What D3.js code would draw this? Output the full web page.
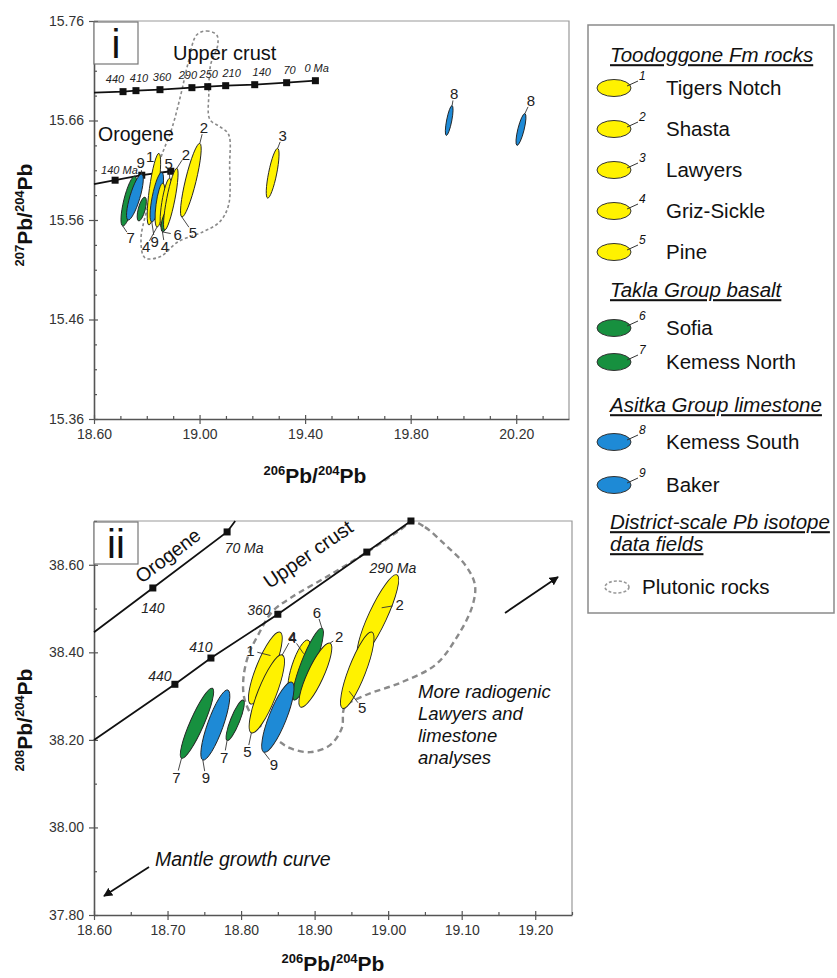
<!DOCTYPE html>
<html>
<head>
<meta charset="utf-8">
<script src="https://cdn.jsdelivr.net/npm/d3@7"></script>
<style>
body { margin: 0; background: #fff; }
svg text { font-family: "Liberation Sans", Arial, sans-serif; }
</style>
</head>
<body>
<svg id="chart" width="837" height="978"></svg>
<script>
// ---- data -------------------------------------------------------------
const groupNames = ["Tigers Notch", "Shasta", "Lawyers", "Griz-Sickle", "Pine",
                    "Sofia", "Kemess North", "Kemess South", "Baker"];

// panel i : 207Pb/204Pb vs 206Pb/204Pb, ellipse centre + upper end of long axis
const topGroup  = [7, 9, 7, 1, 9, 4, 5, 6, 2, 2, 3, 8, 8];
const top206    = [18.732, 18.755, 18.781, 18.827, 18.838, 18.850, 18.872, 18.868, 18.891, 18.967, 19.277, 19.946, 20.218];
const top207    = [15.579, 15.583, 15.571, 15.591, 15.583, 15.575, 15.577, 15.558, 15.581, 15.600, 15.607, 15.660, 15.651];
const top206Hi  = [18.755, 18.781, 18.793, 18.846, 18.857, 18.861, 18.887, 18.876, 18.914, 19.001, 19.296, 19.957, 20.233];
const top207Hi  = [15.604, 15.606, 15.583, 15.627, 15.608, 15.597, 15.602, 15.568, 15.612, 15.637, 15.632, 15.675, 15.667];
const topAspect = [0.20, 0.21, 0.28, 0.125, 0.18, 0.18, 0.16, 0.30, 0.13, 0.14, 0.16, 0.17, 0.19];

// panel ii : 208Pb/204Pb vs 206Pb/204Pb
const botGroup  = [7, 9, 7, 1, 5, 4, 6, 2, 9, 2, 5];
const bot206    = [18.740, 18.765, 18.792, 18.833, 18.835, 18.879, 18.891, 18.901, 18.850, 18.986, 18.958];
const bot208    = [38.238, 38.234, 38.245, 38.364, 38.305, 38.366, 38.373, 38.348, 38.252, 38.483, 38.359];
const bot206Hi  = [18.761, 18.782, 18.803, 18.853, 18.856, 18.891, 18.910, 18.921, 18.869, 19.012, 18.978];
const bot208Hi  = [38.318, 38.314, 38.291, 38.446, 38.394, 38.428, 38.455, 38.421, 38.332, 38.577, 38.446];
const botAspect = [0.18, 0.21, 0.21, 0.23, 0.22, 0.26, 0.18, 0.23, 0.23, 0.20, 0.21];

// growth curves (model ages in Ma)
const crustAge = [440, 410, 360, 290, 250, 210, 140, 70, 0];
const crust206 = [18.710, 18.759, 18.850, 18.971, 19.031, 19.099, 19.209, 19.330, 19.439];
const crust207 = [15.689, 15.690, 15.691, 15.693, 15.694, 15.695, 15.696, 15.698, 15.700];
const crust208 = [38.327, 38.387, 38.487, 38.629, 38.700];
const crustStart = [18.60, 15.688, 38.200];   // 206, 207, 208 where curve meets the y axis

const orogAge = [140, 70, 0];
const orog206 = [18.680, 18.781, 18.891];
const orog207 = [15.600, 15.605, 15.609];
const orog208 = [38.547, 38.675];
const orogStart = [18.60, 15.596, 38.446];
const orogEnd208 = [18.792, 38.700];          // where panel-ii curve leaves the top frame

// plutonic rocks field outlines
const plut206Top = [18.989, 19.027, 19.065, 19.069, 19.042, 19.035, 19.039, 19.076, 19.110, 19.114, 19.110, 19.076,
                    19.012, 18.918, 18.850, 18.793, 18.778, 18.800, 18.850, 18.895, 18.929, 18.955];
const plut207Top = [15.746, 15.750, 15.746, 15.736, 15.716, 15.686, 15.661, 15.654, 15.646, 15.615, 15.575, 15.558,
                    15.548, 15.538, 15.523, 15.522, 15.540, 15.570, 15.620, 15.652, 15.686, 15.716];
const plut206Bot = [19.033, 19.050, 19.078, 19.105, 19.118, 19.114, 19.091, 19.064, 19.016, 18.969, 18.941, 18.937, 18.921,
                    18.894, 18.867, 18.846, 18.819, 18.805, 18.803, 18.810, 18.823, 18.842, 18.867, 18.921, 18.976, 19.016];
const plut208Bot = [38.698, 38.686, 38.645, 38.599, 38.554, 38.503, 38.428, 38.371, 38.330, 38.302, 38.275, 38.227, 38.188,
                    38.172, 38.181, 38.204, 38.245, 38.291, 38.337, 38.394, 38.439, 38.492, 38.524, 38.577, 38.634, 38.679];

// axis ticks
const topXMajor = [18.6, 19.0, 19.4, 19.8, 20.2];
const topYMajor = [15.36, 15.46, 15.56, 15.66, 15.76];
const botXMajor = [18.6, 18.7, 18.8, 18.9, 19.0, 19.1, 19.2];
const botYMajor = [37.8, 38.0, 38.2, 38.4, 38.6];

// ---- style ------------------------------------------------------------
const fillFor = g => g <= 5 ? "#fff200" : (g <= 7 ? "#17903f" : "#1e8ad6");
const crustLabelDx = [-8, 3, 2, -4, 1, 6, 7, 3, -11];   // nudges so the age labels do not collide
const svg = d3.select("#chart");

svg.append("defs").append("marker")
    .attr("id", "head").attr("viewBox", "0 0 10 10")
    .attr("refX", 9).attr("refY", 5)
    .attr("markerWidth", 5).attr("markerHeight", 5)
    .attr("orient", "auto-start-reverse")
    .append("path").attr("d", "M0,0L10,5L0,10z").attr("fill", "#111");

function range(a, b, step) {
    let out = [];
    for (let v = a; v <= b + 1e-9; v += step) out.push(+v.toFixed(4));
    return out;
}

function drawAxes(g, x, y, xMajor, xMinor, yMajor, yMinor) {
    let [x0, x1] = x.range();
    let [y0, y1] = y.range();

    g.append("path")
        .attr("d", `M${x0},${y1}H${x1}V${y0}`)
        .attr("fill", "none").attr("stroke", "#999").attr("stroke-width", 1.2);

    let fmt = d3.format(".2f");

    let xa = g.append("g").attr("transform", `translate(0,${y0})`)
        .call(d3.axisBottom(x).tickValues(xMajor).tickSize(5).tickSizeOuter(0).tickPadding(5).tickFormat(fmt));
    xa.selectAll(".tick").append("line").attr("y2", -4).attr("stroke", "currentColor");
    g.append("g").attr("transform", `translate(0,${y0})`)
        .call(d3.axisBottom(x).tickValues(xMinor).tickSize(-3).tickFormat(""))
        .call(s => s.select(".domain").remove());

    let ya = g.append("g").attr("transform", `translate(${x0},0)`)
        .call(d3.axisLeft(y).tickValues(yMajor).tickSize(5).tickSizeOuter(0).tickPadding(5).tickFormat(fmt));
    ya.selectAll(".tick").append("line").attr("x2", 4).attr("stroke", "currentColor");
    g.append("g").attr("transform", `translate(${x0},0)`)
        .call(d3.axisLeft(y).tickValues(yMinor).tickSize(-3).tickFormat(""))
        .call(s => s.select(".domain").remove());

    g.selectAll(".domain").attr("stroke", "#555").attr("stroke-width", 1.6);
    g.selectAll(".tick line").attr("stroke", "#555").attr("stroke-width", 1.2);
    g.selectAll(".tick text")
        .attr("font-family", "Liberation Sans, Arial, sans-serif")
        .attr("font-size", 14).attr("fill", "#333");
}

function isoLabel(g, x, y, top, bottom, rotate) {
    let t = g.append("text")
        .attr("transform", `translate(${x},${y})` + (rotate ? " rotate(-90)" : ""))
        .attr("text-anchor", "middle").attr("font-weight", "bold").attr("font-size", 21).attr("fill", "#111");
    t.append("tspan").attr("font-size", 13).attr("dy", -8).text(top);
    t.append("tspan").attr("dy", 8).text("Pb/");
    t.append("tspan").attr("font-size", 13).attr("dy", -8).text(bottom);
    t.append("tspan").attr("dy", 8).text("Pb");
}

function panelBox(g, x, y, label) {
    let x0 = x.range()[0], yTop = y.range()[1];
    g.append("rect").attr("x", x0).attr("y", yTop + 1).attr("width", 44).attr("height", 42)
        .attr("fill", "#fff").attr("stroke", "#777").attr("stroke-width", 1.2);
    g.append("text").attr("x", x0 + 22).attr("y", yTop + 37).attr("text-anchor", "middle")
        .attr("font-size", 40).attr("fill", "#111").text(label);
}

function drawEllipses(g, x, y, cx, cy, hx, hy, aspect, group) {
    let items = cx.map((d, i) => {
        let px = x(cx[i]), py = y(cy[i]);
        let tx = x(hx[i]), ty = y(hy[i]);
        let len = Math.hypot(tx - px, ty - py);
        let ang = Math.atan2(ty - py, tx - px) * 180 / Math.PI;
        return {px, py, tx, ty, len, ang, ry: len * aspect[i], g: group[i]};
    });
    g.selectAll("ellipse.sample").data(items).enter().append("ellipse")
        .attr("class", "sample")
        .attr("transform", d => `translate(${d.px},${d.py}) rotate(${d.ang})`)
        .attr("rx", d => d.len).attr("ry", d => d.ry)
        .attr("fill", d => fillFor(d.g))
        .attr("stroke", "#222").attr("stroke-width", 0.9);
    return items;
}

function drawNumbers(g, items, labels, size) {
    labels.forEach(l => {
        let e = items[l.e];
        let ax = e.px + l.t * (e.tx - e.px);
        let ay = e.py + l.t * (e.ty - e.py);
        let lx = ax + l.dx, ly = ay + l.dy;
        let d = Math.hypot(l.dx, l.dy);
        if (d > 9) {
            let k = (d - 7) / d;
            g.append("line").attr("x1", ax).attr("y1", ay)
                .attr("x2", ax + l.dx * k).attr("y2", ay + l.dy * k)
                .attr("stroke", "#333").attr("stroke-width", 0.9);
        }
        g.append("text").attr("x", lx).attr("y", ly).attr("dy", "0.35em")
            .attr("text-anchor", "middle").attr("font-size", size).attr("fill", "#222")
            .text(l.text);
    });
}

function growthCurve(g, x, y, xs, ys, start, end) {
    let pts = [[start[0], start[1]]].concat(xs.map((v, i) => [v, ys[i]]));
    if (end) pts.push(end);
    g.append("path")
        .attr("d", d3.line().x(d => x(d[0])).y(d => y(d[1]))(pts))
        .attr("fill", "none").attr("stroke", "#111").attr("stroke-width", 1.8);
    g.selectAll(null).data(ys.map((v, i) => [xs[i], v])).enter().append("rect")
        .attr("x", d => x(d[0]) - 3.5).attr("y", d => y(d[1]) - 3.5)
        .attr("width", 7).attr("height", 7).attr("fill", "#111");
}

// ---- panel i ----------------------------------------------------------
let xTop = d3.scaleLinear().domain([18.6, 20.4]).range([94, 569]);
let yTop = d3.scaleLinear().domain([15.36, 15.76]).range([419, 21]);
let gTop = svg.append("g");

drawAxes(gTop, xTop, yTop, topXMajor, range(18.7, 20.3, 0.1).filter(v => !topXMajor.includes(v)),
         topYMajor, range(15.385, 15.735, 0.025).filter(v => !topYMajor.some(m => Math.abs(m - v) < 1e-6)));

gTop.append("path")
    .attr("d", d3.line().x(d => xTop(d[0])).y(d => yTop(d[1])).curve(d3.curveCatmullRomClosed)(plut206Top.map((v, i) => [v, plut207Top[i]])))
    .attr("fill", "none").attr("stroke", "#8a8a8a").attr("stroke-width", 1.6).attr("stroke-dasharray", "3,2.5");

growthCurve(gTop, xTop, yTop, crust206, crust207, [crustStart[0], crustStart[1]], null);
gTop.selectAll(null).data(crustAge).enter().append("text")
    .attr("x", (d, i) => xTop(crust206[i]) + crustLabelDx[i])
    .attr("y", (d, i) => yTop(crust207[i]) - 9)
    .attr("text-anchor", (d, i) => i === 8 ? "start" : "middle")
    .attr("font-size", 11).attr("font-style", "italic").attr("fill", "#222")
    .text((d, i) => i === 8 ? "0 Ma" : d);

growthCurve(gTop, xTop, yTop, orog206, orog207, [orogStart[0], orogStart[1]], null);
gTop.append("text").attr("x", xTop(orog206[0]) - 14).attr("y", yTop(orog207[0]) - 6)
    .attr("font-size", 11).attr("font-style", "italic").attr("fill", "#222").text("140 Ma");

gTop.append("text").attr("x", 173).attr("y", 60).attr("font-size", 20).attr("fill", "#111").text("Upper crust");
gTop.append("text").attr("x", 98).attr("y", 141).attr("font-size", 19.5).attr("fill", "#111").text("Orogene");

let topItems = drawEllipses(gTop, xTop, yTop, top206, top207, top206Hi, top207Hi, topAspect, topGroup);
drawNumbers(gTop, topItems, [
    {e: 11, t: 1, dx: 2, dy: -12, text: "8"},
    {e: 12, t: 1, dx: 6, dy: -13, text: "8"},
    {e: 10, t: 1, dx: 5, dy: -13, text: "3"},
    {e: 9, t: 1, dx: 4, dy: -16, text: "2"},
    {e: 3, t: 0.85, dx: -8, dy: -2, text: "1"},
    {e: 1, t: 1, dx: -1, dy: -11, text: "9"},
    {e: 6, t: 1, dx: -1, dy: -14, text: "5"},
    {e: 8, t: 1, dx: 9, dy: -14, text: "2"},
    {e: 0, t: -1, dx: 8, dy: 12, text: "7"},
    {e: 5, t: -1, dx: -11, dy: 20, text: "4"},
    {e: 4, t: -1, dx: 3, dy: 20, text: "9"},
    {e: 6, t: -1, dx: 3, dy: 19, text: "4"},
    {e: 7, t: -1, dx: 15, dy: 3, text: "6"},
    {e: 9, t: -1, dx: 11, dy: 16, text: "5"}
], 15);

panelBox(gTop, xTop, yTop, "i");
isoLabel(svg, 315, 483, "206", "204", false);
isoLabel(svg, 32, 215, "207", "204", true);

// ---- panel ii ---------------------------------------------------------
let xBot = d3.scaleLinear().domain([18.6, 19.25]).range([94, 572]);
let yBot = d3.scaleLinear().domain([37.8, 38.7]).range([915, 521]);
let gBot = svg.append("g");

drawAxes(gBot, xBot, yBot, botXMajor, range(18.65, 19.25, 0.1),
         botYMajor, range(37.9, 38.7, 0.2));

gBot.append("path")
    .attr("d", d3.line().x(d => xBot(d[0])).y(d => yBot(d[1])).curve(d3.curveCatmullRomClosed)(plut206Bot.map((v, i) => [v, plut208Bot[i]])))
    .attr("fill", "none").attr("stroke", "#8a8a8a").attr("stroke-width", 2.4).attr("stroke-dasharray", "6,4");

growthCurve(gBot, xBot, yBot, crust206.slice(0, 5), crust208, [crustStart[0], crustStart[2]], null);
growthCurve(gBot, xBot, yBot, orog206.slice(0, 2), orog208, [orogStart[0], orogStart[2]], orogEnd208);

// model-age labels on the growth curves
const botAgeText = [["440", 0, -15, -8], ["410", 1, -10, -11], ["360", 2, -19, -4], ["290 Ma", 3, 26, 16]];
botAgeText.forEach(a => {
    gBot.append("text").attr("x", xBot(crust206[a[1]]) + a[2]).attr("y", yBot(crust208[a[1]]) + a[3])
        .attr("dy", "0.35em").attr("text-anchor", "middle")
        .attr("font-size", 14).attr("font-style", "italic").attr("fill", "#222").text(a[0]);
});
gBot.append("text").attr("x", xBot(orog206[0])).attr("y", yBot(orog208[0]) + 20).attr("dy", "0.35em")
    .attr("text-anchor", "middle").attr("font-size", 14).attr("font-style", "italic").attr("fill", "#222").text("140");
gBot.append("text").attr("x", xBot(orog206[1]) + 17).attr("y", yBot(orog208[1]) + 16).attr("dy", "0.35em")
    .attr("text-anchor", "middle").attr("font-size", 14).attr("font-style", "italic").attr("fill", "#222").text("70 Ma");

gBot.append("text").attr("transform", "translate(312,560) rotate(-34.6)").attr("text-anchor", "middle")
    .attr("font-size", 20).attr("fill", "#111").text("Upper crust");
gBot.append("text").attr("transform", "translate(172,561) rotate(-37.2)").attr("text-anchor", "middle")
    .attr("font-size", 19.5).attr("fill", "#111").text("Orogene");

let botItems = drawEllipses(gBot, xBot, yBot, bot206, bot208, bot206Hi, bot208Hi, botAspect, botGroup);
drawNumbers(gBot, botItems, [
    {e: 0, t: -1, dx: -5, dy: 19, text: "7"},
    {e: 1, t: -1, dx: 3, dy: 18, text: "9"},
    {e: 2, t: -1, dx: -3, dy: 17, text: "7"},
    {e: 4, t: -1, dx: -4, dy: 19, text: "5"},
    {e: 8, t: -1, dx: 10, dy: 13, text: "9"},
    {e: 3, t: 0.35, dx: -20, dy: -5, text: "1"},
    {e: 4, t: 1, dx: 10, dy: -18, text: "4"},
    {e: 5, t: 0.5, dx: -11, dy: -16, text: "4"},
    {e: 6, t: 1, dx: -5, dy: -16, text: "6"},
    {e: 7, t: 1, dx: 9, dy: -6, text: "2"},
    {e: 9, t: 0.2, dx: 18, dy: -3, text: "2"},
    {e: 10, t: -0.55, dx: 13, dy: 17, text: "5"}
], 15);

// arrows and notes
gBot.append("line").attr("x1", 505).attr("y1", 613).attr("x2", 558).attr("y2", 577)
    .attr("stroke", "#111").attr("stroke-width", 1.8).attr("marker-end", "url(#head)");
["More radiogenic", "Lawyers and", "limestone", "analyses"].forEach((s, i) => {
    gBot.append("text").attr("x", 418).attr("y", 698 + i * 22)
        .attr("font-size", 18.5).attr("font-style", "italic").attr("fill", "#111").text(s);
});
gBot.append("line").attr("x1", 149).attr("y1", 867).attr("x2", 104).attr("y2", 896)
    .attr("stroke", "#111").attr("stroke-width", 1.8).attr("marker-end", "url(#head)");
gBot.append("text").attr("x", 155).attr("y", 866).attr("font-size", 19.5).attr("font-style", "italic")
    .attr("fill", "#111").text("Mantle growth curve");

panelBox(gBot, xBot, yBot, "ii");
isoLabel(svg, 333, 971, "206", "204", false);
isoLabel(svg, 32, 720, "208", "204", true);

// ---- legend -----------------------------------------------------------
const legendRows = [
    {head: "Toodoggone Fm rocks", y: 55},
    {id: 1, y: 88}, {id: 2, y: 129}, {id: 3, y: 170}, {id: 4, y: 211}, {id: 5, y: 252},
    {head: "Takla Group basalt", y: 290},
    {id: 6, y: 328}, {id: 7, y: 362},
    {head: "Asitka Group limestone", y: 405},
    {id: 8, y: 442}, {id: 9, y: 485},
    {head: "District-scale Pb isotope", y: 522},
    {head: "data fields", y: 544},
    {plut: "Plutonic rocks", y: 587}
];

let lg = svg.append("g");
lg.append("rect").attr("x", 588).attr("y", 25).attr("width", 246).attr("height", 588)
    .attr("fill", "#fff").attr("stroke", "#8a8a8a").attr("stroke-width", 1.5);

legendRows.forEach(r => {
    if (r.head) {
        lg.append("text").attr("x", 610).attr("y", r.y).attr("dy", "0.35em")
            .attr("font-size", 20.5).attr("font-style", "italic").attr("text-decoration", "underline")
            .attr("fill", "#111").text(r.head);
    } else if (r.id) {
        lg.append("ellipse").attr("cx", 614).attr("cy", r.y).attr("rx", 17).attr("ry", 8.5)
            .attr("fill", fillFor(r.id)).attr("stroke", "#333").attr("stroke-width", 1);
        lg.append("line").attr("x1", 627).attr("y1", r.y - 2).attr("x2", 638).attr("y2", r.y - 7)
            .attr("stroke", "#333").attr("stroke-width", 1);
        lg.append("text").attr("x", 639).attr("y", r.y - 8)
            .attr("font-size", 12).attr("font-style", "italic").attr("fill", "#111").text(r.id);
        lg.append("text").attr("x", 666).attr("y", r.y).attr("dy", "0.35em")
            .attr("font-size", 20.5).attr("fill", "#111").text(groupNames[r.id - 1]);
    } else {
        lg.append("ellipse").attr("cx", 617).attr("cy", r.y).attr("rx", 12).attr("ry", 6)
            .attr("fill", "none").attr("stroke", "#999").attr("stroke-width", 1.6).attr("stroke-dasharray", "3,2");
        lg.append("text").attr("x", 642).attr("y", r.y).attr("dy", "0.35em")
            .attr("font-size", 20.5).attr("fill", "#111").text(r.plut);
    }
});
</script>
</body>
</html>
